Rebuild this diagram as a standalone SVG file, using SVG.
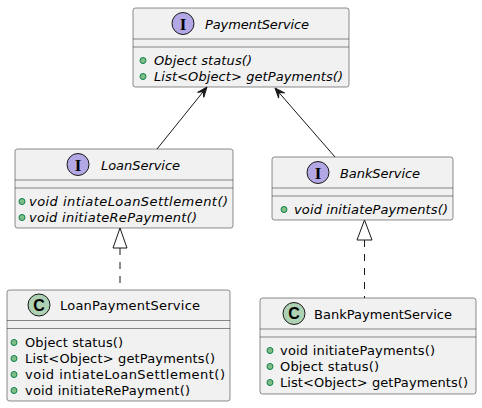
<svg xmlns="http://www.w3.org/2000/svg" width="482" height="408" viewBox="0 0 482 408">
<style>
.box{fill:#F1F1F1;stroke:#181818;stroke-width:0.5}
.sep{stroke:#181818;stroke-width:0.5}
.t{font-family:"DejaVu Sans","Liberation Sans",sans-serif;font-size:13px;fill:#000}
.i{font-style:italic}
.dot{fill:#84BE84;stroke:#038048;stroke-width:1}
.ii{fill:#B4A7E5;stroke:#181818;stroke-width:1}
.ci{fill:#ADD1B2;stroke:#181818;stroke-width:1}
.il{font-family:"Liberation Serif",serif;font-weight:bold;font-size:17px;fill:#000;text-anchor:middle}
.cl{font-family:"Liberation Sans",sans-serif;font-weight:bold;font-size:16px;fill:#000;text-anchor:middle}
.ln{stroke:#181818;stroke-width:1;fill:none}
.dash{stroke-dasharray:7,7}
.ah{fill:#181818;stroke:#181818;stroke-width:1}
.tri{fill:none;stroke:#181818;stroke-width:1}
</style>
<g id="PaymentService">
<rect class="box" x="133" y="8" width="216" height="79" rx="2.5"/>
<line class="sep" x1="133" y1="39" x2="349" y2="39"/>
<line class="sep" x1="133" y1="47" x2="349" y2="47"/>
<circle class="ii" cx="183" cy="23.5" r="11"/>
<text class="il" x="183" y="29.5">I</text>
<text class="t i" x="205" y="28.5" textLength="104">PaymentService</text>
<circle class="dot" cx="143" cy="60.5" r="3"/>
<text class="t i" x="154" y="65" textLength="98">Object status()</text>
<circle class="dot" cx="143" cy="76.5" r="3"/>
<text class="t i" x="154" y="81" textLength="189">List&lt;Object&gt; getPayments()</text>
</g>
<g id="LoanService">
<rect class="box" x="15" y="149" width="218" height="79" rx="2.5"/>
<line class="sep" x1="15" y1="180" x2="233" y2="180"/>
<line class="sep" x1="15" y1="188" x2="233" y2="188"/>
<circle class="ii" cx="78" cy="164.5" r="11"/>
<text class="il" x="78" y="170.5">I</text>
<text class="t i" x="101" y="169.5" textLength="79">LoanService</text>
<circle class="dot" cx="22" cy="201.5" r="3"/>
<text class="t i" x="29" y="206" textLength="199">void intiateLoanSettlement()</text>
<circle class="dot" cx="22" cy="217.5" r="3"/>
<text class="t i" x="29" y="222" textLength="168">void initiateRePayment()</text>
</g>
<g id="BankService">
<rect class="box" x="272" y="157" width="181" height="63" rx="2.5"/>
<line class="sep" x1="272" y1="188" x2="453" y2="188"/>
<line class="sep" x1="272" y1="196" x2="453" y2="196"/>
<circle class="ii" cx="318" cy="172.5" r="11"/>
<text class="il" x="318" y="178.5">I</text>
<text class="t i" x="340" y="177.5" textLength="80">BankService</text>
<circle class="dot" cx="284" cy="209.5" r="3"/>
<text class="t i" x="294" y="214" textLength="154">void initiatePayments()</text>
</g>
<g id="LoanPaymentService">
<rect class="box" x="7" y="290" width="223" height="111" rx="2.5"/>
<line class="sep" x1="7" y1="320.5" x2="230" y2="320.5"/>
<line class="sep" x1="7" y1="328.5" x2="230" y2="328.5"/>
<circle class="ci" cx="39" cy="305" r="11"/>
<text class="cl" x="39" y="310.5">C</text>
<text class="t" x="60" y="310" textLength="140">LoanPaymentService</text>
<circle class="dot" cx="14" cy="342.5" r="3"/>
<text class="t" x="25" y="347" textLength="98">Object status()</text>
<circle class="dot" cx="14" cy="358.5" r="3"/>
<text class="t" x="25" y="363" textLength="190">List&lt;Object&gt; getPayments()</text>
<circle class="dot" cx="14" cy="374.5" r="3"/>
<text class="t" x="25" y="379" textLength="200">void intiateLoanSettlement()</text>
<circle class="dot" cx="14" cy="390.5" r="3"/>
<text class="t" x="25" y="395" textLength="165">void initiateRePayment()</text>
</g>
<g id="BankPaymentService">
<rect class="box" x="260" y="298" width="216" height="96" rx="2.5"/>
<line class="sep" x1="260" y1="329" x2="476" y2="329"/>
<line class="sep" x1="260" y1="337" x2="476" y2="337"/>
<circle class="ci" cx="294" cy="313.5" r="11"/>
<text class="cl" x="294" y="319">C</text>
<text class="t" x="314" y="318.5" textLength="138">BankPaymentService</text>
<circle class="dot" cx="270" cy="350.5" r="3"/>
<text class="t" x="280" y="355" textLength="155">void initiatePayments()</text>
<circle class="dot" cx="270" cy="366.5" r="3"/>
<text class="t" x="280" y="371" textLength="99">Object status()</text>
<circle class="dot" cx="270" cy="382.5" r="3"/>
<text class="t" x="280" y="387" textLength="188">List&lt;Object&gt; getPayments()</text>
</g>
<g id="connectors">
<line class="ln" x1="157" y1="149" x2="203.2" y2="91.7"/>
<polygon class="ah" points="207,87 203.8,97.3 203.2,91.7 197.6,92.3"/>
<line class="ln" x1="335" y1="157" x2="278.9" y2="92.5"/>
<polygon class="ah" points="275,88 284.6,92.9 278.9,92.5 278.6,98.1"/>
<line class="ln dash" x1="120" y1="248" x2="120" y2="290"/>
<polygon class="tri" points="120,228 113,248 127,248"/>
<line class="ln dash" x1="364.5" y1="240" x2="364.5" y2="298"/>
<polygon class="tri" points="364.5,220 357,240 372,240"/>
</g>
</svg>
